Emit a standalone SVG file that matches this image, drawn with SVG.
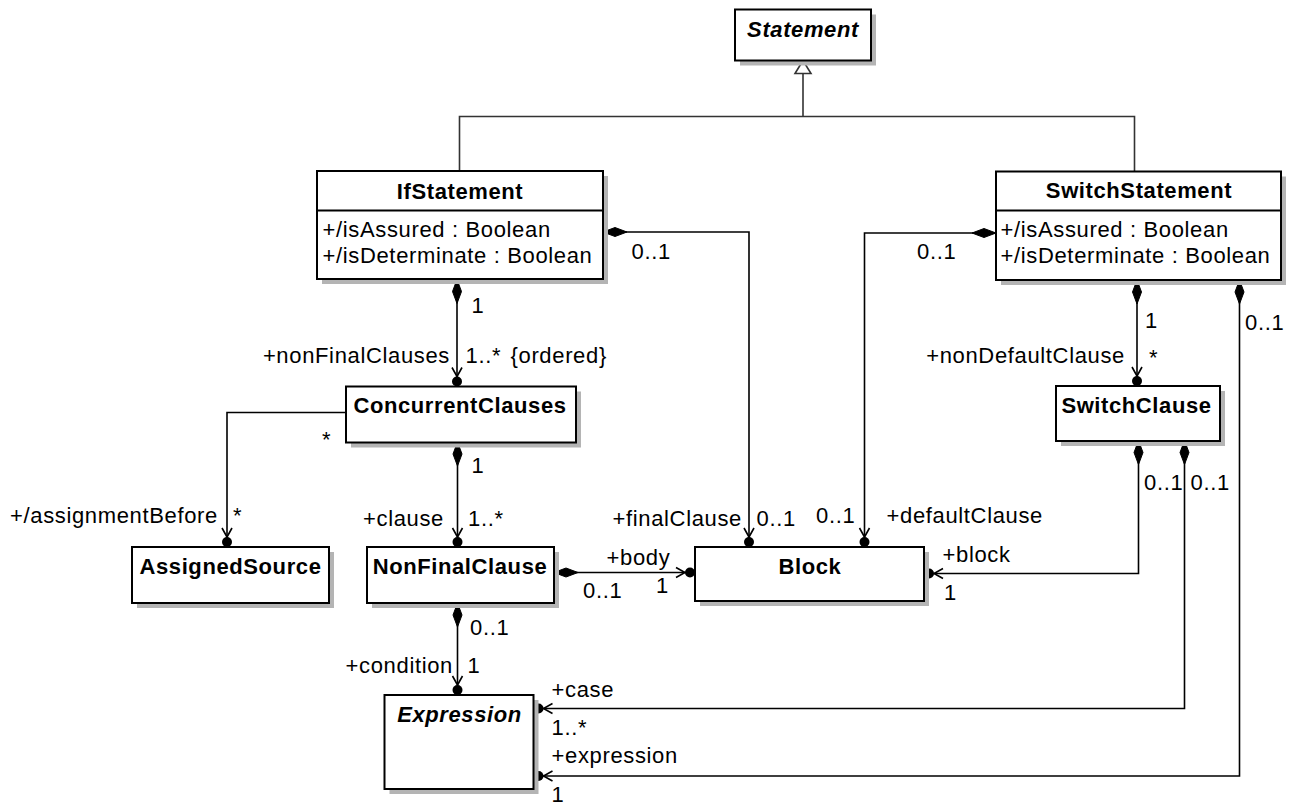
<svg xmlns="http://www.w3.org/2000/svg" width="1290" height="804" viewBox="0 0 1290 804">
<style>
  .box { fill: #ffffff; stroke: #000000; stroke-width: 2; }
  .shadow { fill: #b4b4b4; stroke: none; }
  .sep { stroke: #000000; stroke-width: 2; }
  .title { font-family: "Liberation Sans", Arial, sans-serif; font-size: 22px; font-weight: bold; letter-spacing: 0.6px; fill: #000; text-anchor: middle; }
  .abstract { font-style: italic; }
  .attr { font-family: "Liberation Sans", Arial, sans-serif; font-size: 22px; letter-spacing: 0.65px; fill: #000; }
  .lbl { font-family: "Liberation Sans", Arial, sans-serif; font-size: 22px; letter-spacing: 0.65px; fill: #000; }
  .end { text-anchor: end; }
  .assoc { fill: none; stroke: #000000; stroke-width: 1.6; marker-start: url(#diamond); marker-end: url(#navdot); }
  .plain { fill: none; stroke: #000000; stroke-width: 1.6; marker-end: url(#navdot); }
  .gen { fill: none; stroke: #333333; stroke-width: 1.6; }
</style>
<defs>
  <marker id="diamond" markerUnits="userSpaceOnUse" orient="auto" refX="0" refY="0" markerWidth="30" markerHeight="12" overflow="visible">
    <polygon points="0,0 12,-4.5 24,0 12,4.5" fill="#000" stroke="#000" stroke-width="1"/>
  </marker>
  <marker id="navdot" markerUnits="userSpaceOnUse" orient="auto" refX="0" refY="0" markerWidth="24" markerHeight="14" overflow="visible">
    <circle cx="-5" cy="0" r="5" fill="#000"/>
    <polyline points="-19,-5 -10,0 -19,5" fill="none" stroke="#000" stroke-width="1.6"/>
  </marker>
</defs>
<rect width="1290" height="804" fill="#ffffff"/>

<g id="connectors">
  <!-- generalization -->
  <path class="gen" d="M459.5,171 V116.5 H1134.5 V171"/>
  <path class="gen" d="M803,73.5 V116.5"/>
  <polygon points="803,60.5 795,73.5 811,73.5" fill="#fff" stroke="#333" stroke-width="1.6"/>
  <!-- IfStatement -> Block (finalClause) -->
  <path class="assoc" d="M603,232 H749 V547"/>
  <!-- SwitchStatement -> Block (defaultClause) -->
  <path class="assoc" d="M996,233 H864.5 V547"/>
  <!-- IfStatement -> ConcurrentClauses -->
  <path class="assoc" d="M457,279.5 V386.5"/>
  <!-- ConcurrentClauses -> AssignedSource -->
  <path class="plain" d="M346,412.5 H227 V547"/>
  <!-- ConcurrentClauses -> NonFinalClause -->
  <path class="assoc" d="M457.5,442 V547"/>
  <!-- NonFinalClause -> Block (body) -->
  <path class="assoc" d="M554,572.5 H695"/>
  <!-- SwitchStatement -> SwitchClause -->
  <path class="assoc" d="M1137,280 V386"/>
  <!-- SwitchClause -> Block (block) -->
  <path class="assoc" d="M1138.5,440.5 V573.5 H924"/>
  <!-- SwitchClause -> Expression (case) -->
  <path class="assoc" d="M1184.5,440.5 V708.5 H533.5"/>
  <!-- SwitchStatement -> Expression (expression) -->
  <path class="assoc" d="M1239.5,280 V776 H533.5"/>
  <!-- NonFinalClause -> Expression (condition) -->
  <path class="assoc" d="M457.5,603 V695"/>

  <!-- labels -->
  <text class="lbl" x="631.5" y="259">0..1</text>
  <text class="lbl" x="917" y="259">0..1</text>
  <text class="lbl" x="471.5" y="313">1</text>
  <text class="lbl end" x="450" y="363">+nonFinalClauses</text>
  <text class="lbl" x="465.5" y="363">1..*</text>
  <text class="lbl" x="510.5" y="363">{ordered}</text>
  <text class="lbl" x="1145" y="328">1</text>
  <text class="lbl" x="1245" y="330">0..1</text>
  <text class="lbl end" x="1125" y="363">+nonDefaultClause</text>
  <text class="lbl" x="1149" y="365">*</text>
  <text class="lbl" x="322" y="446.5">*</text>
  <text class="lbl" x="471.5" y="473">1</text>
  <text class="lbl" x="1144" y="490">0..1</text>
  <text class="lbl" x="1190.5" y="490">0..1</text>
  <text class="lbl" x="10" y="523">+/assignmentBefore</text>
  <text class="lbl" x="233" y="523">*</text>
  <text class="lbl" x="363" y="525.5">+clause</text>
  <text class="lbl" x="468" y="525.5">1..*</text>
  <text class="lbl end" x="742" y="525.5">+finalClause</text>
  <text class="lbl" x="756.5" y="525.5">0..1</text>
  <text class="lbl" x="816" y="523">0..1</text>
  <text class="lbl" x="886.5" y="523">+defaultClause</text>
  <text class="lbl" x="606.5" y="565">+body</text>
  <text class="lbl" x="942.5" y="561.5">+block</text>
  <text class="lbl" x="583" y="598">0..1</text>
  <text class="lbl" x="656" y="593">1</text>
  <text class="lbl" x="944" y="600">1</text>
  <text class="lbl" x="470" y="635">0..1</text>
  <text class="lbl end" x="453" y="673">+condition</text>
  <text class="lbl" x="467.5" y="673">1</text>
  <text class="lbl" x="551.5" y="696.5">+case</text>
  <text class="lbl" x="551.5" y="735">1..*</text>
  <text class="lbl" x="551.5" y="763">+expression</text>
  <text class="lbl" x="551.5" y="801.5">1</text>
</g>

<g id="Statement">
  <rect class="shadow" x="740" y="14.5" width="136" height="51"/>
  <rect class="box" x="735" y="9.5" width="136" height="51"/>
  <text class="title abstract" x="803" y="36.5">Statement</text>
</g>

<g id="IfStatement">
  <rect class="shadow" x="322" y="176" width="286" height="108"/>
  <rect class="box" x="317" y="171" width="286" height="108"/>
  <line class="sep" x1="317" y1="210.5" x2="603" y2="210.5"/>
  <text class="title" x="460" y="198.5">IfStatement</text>
  <text class="attr" x="322.5" y="237">+/isAssured : Boolean</text>
  <text class="attr" x="322.5" y="262.5">+/isDeterminate : Boolean</text>
</g>

<g id="SwitchStatement">
  <rect class="shadow" x="1001" y="176.5" width="285" height="108.5"/>
  <rect class="box" x="996" y="171.5" width="285" height="108.5"/>
  <line class="sep" x1="996" y1="210.5" x2="1281" y2="210.5"/>
  <text class="title" x="1139" y="197.5">SwitchStatement</text>
  <text class="attr" x="1000.5" y="237">+/isAssured : Boolean</text>
  <text class="attr" x="1000.5" y="262.5">+/isDeterminate : Boolean</text>
</g>

<g id="ConcurrentClauses">
  <rect class="shadow" x="351" y="391.5" width="230" height="56"/>
  <rect class="box" x="346" y="386.5" width="230" height="56"/>
  <text class="title" x="460" y="412.5">ConcurrentClauses</text>
</g>

<g id="SwitchClause">
  <rect class="shadow" x="1061" y="391" width="164" height="55"/>
  <rect class="box" x="1056" y="386" width="164" height="55"/>
  <text class="title" x="1136.5" y="412.5">SwitchClause</text>
</g>

<g id="AssignedSource">
  <rect class="shadow" x="137" y="552" width="197" height="56"/>
  <rect class="box" x="132" y="547" width="197" height="56"/>
  <text class="title" x="230.5" y="573.5">AssignedSource</text>
</g>

<g id="NonFinalClause">
  <rect class="shadow" x="372" y="552" width="187" height="56"/>
  <rect class="box" x="367" y="547" width="187" height="56"/>
  <text class="title" x="460" y="573.5">NonFinalClause</text>
</g>

<g id="Block">
  <rect class="shadow" x="700" y="552" width="229" height="54"/>
  <rect class="box" x="695" y="547" width="229" height="54"/>
  <text class="title" x="810" y="573.5">Block</text>
</g>

<g id="Expression">
  <rect class="shadow" x="389.5" y="700" width="149" height="94"/>
  <rect class="box" x="384.5" y="695" width="149" height="94"/>
  <text class="title abstract" x="459.5" y="722">Expression</text>
</g>
</svg>
